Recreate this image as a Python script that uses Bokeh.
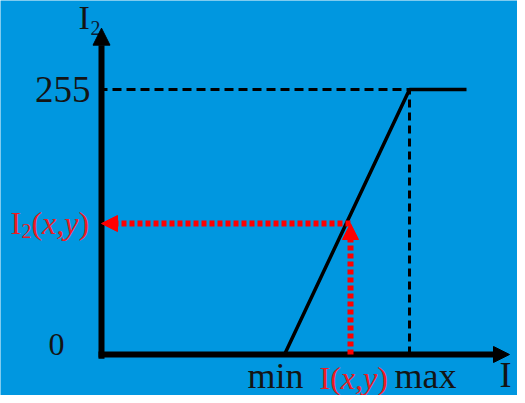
from bokeh.plotting import figure
from bokeh.models import Range1d, Arrow, NormalHead
from bokeh.core.properties import value
from bokeh.embed import file_html
from bokeh.resources import INLINE

# ---- data ----
out_levels = [0, 255]                 # output range of I2
in_window = [91.5, 154.0]             # [min, max] of input I
curve_x = [91.5, 154.0, 182.5]        # linear stretch then saturation
curve_y = [0, 255, 255]
point_in = 124.5                      # I(x,y)
point_out = 126.0                     # I2(x,y)
axis_ends = [204.0, 314.0]            # arrow tips of x and y axes

BG = "#0097E0"
INK = "#141414"
RED = "#FF0000"
RED_TXT = "#EC1C24"
SERIF = value("Liberation Serif")

p = figure(width=517, height=395, x_range=Range1d(-50.5, 208.0), y_range=Range1d(-39.45, 340.6),
           output_backend="svg", toolbar_location=None, x_axis_location=None, y_axis_location=None,
           min_border=0, background_fill_color=BG, border_fill_color=BG, outline_line_color=None)
p.grid.visible = False

in_min, in_max = in_window
lo, hi = out_levels

# guide dashed lines
p.line([0, in_max], [hi, hi], line_color="black", line_width=3, line_dash="9 5", line_dash_offset=3)
p.line([in_max, in_max], [lo, hi], line_color="black", line_width=3, line_dash="8 5")

# transfer curve
p.line(curve_x, curve_y, line_color="black", line_width=3.5)

# axes with arrow heads
p.add_layout(Arrow(x_start=0, y_start=-4, x_end=0, y_end=axis_ends[1], line_width=6, line_color="black",
                   end=NormalHead(size=17, fill_color="black", line_color="black", line_width=1)))
p.add_layout(Arrow(x_start=-1.5, y_start=lo, x_end=axis_ends[0], y_end=lo, line_width=6, line_color="black",
                   end=NormalHead(size=16, fill_color="black", line_color="black", line_width=1)))

# red dotted lookup arrows
p.add_layout(Arrow(x_start=point_in, y_start=lo, x_end=point_in, y_end=point_out, line_width=6,
                   line_color=RED, line_dash="5 3",
                   end=NormalHead(size=16, fill_color=RED, line_color=RED, line_width=1)))
p.add_layout(Arrow(x_start=point_in, y_start=point_out, x_end=0, y_end=point_out, line_width=6,
                   line_color=RED, line_dash="5 3",
                   end=NormalHead(size=16, fill_color=RED, line_color=RED, line_width=1)))

# ---- labels ----
def txt(x, y, s, size, color=INK, align="left", dx=0, dy=0, style="normal"):
    # dy = wanted baseline offset (px, downward); renderer places text ~0.34em lower
    p.text(x=[x], y=[y], text=[s], text_font=SERIF, text_font_size=f"{size}px", text_color=color,
           text_align=align, text_baseline="alphabetic", x_offset=dx, y_offset=dy - 0.34 * size,
           text_font_style=style)

# y axis title I2
txt(0, axis_ends[1], "I", 34, dx=-23, dy=1)
txt(0, axis_ends[1], "2", 20, color="#0b1a33", dx=-11, dy=7)
# y tick labels
txt(0, hi, "255", 37, align="right", dx=-11, dy=13)
txt(0, lo, "0", 32, align="center", dx=-45, dy=1)
# red I2(x,y)
txt(0, point_out, "I", 32, color=RED_TXT, dx=-91, dy=10)
txt(0, point_out, "2", 20, color=RED_TXT, dx=-80, dy=14)
txt(0, point_out, "(", 32, color=RED_TXT, dx=-70, dy=10)
txt(0, point_out, "x,y", 32, color=RED_TXT, dx=-59.5, dy=10, style="italic")
txt(0, point_out, ")", 32, color=RED_TXT, dx=-23, dy=10)
# x labels
txt(in_min, lo, "min", 36, align="center", dx=-9, dy=34)
txt(in_max, lo, "max", 36, align="center", dx=16, dy=34)
txt(axis_ends[0], lo, "I", 36, align="right", dx=2, dy=33)
# red I(x,y)
txt(point_in, lo, "I(", 32, color=RED_TXT, dx=-31, dy=34)
txt(point_in, lo, "x,y", 32, color=RED_TXT, dx=-9.7, dy=34, style="italic")
txt(point_in, lo, ")", 32, color=RED_TXT, dx=26.8, dy=34)

open("out.html", "w").write(file_html(p, INLINE))
